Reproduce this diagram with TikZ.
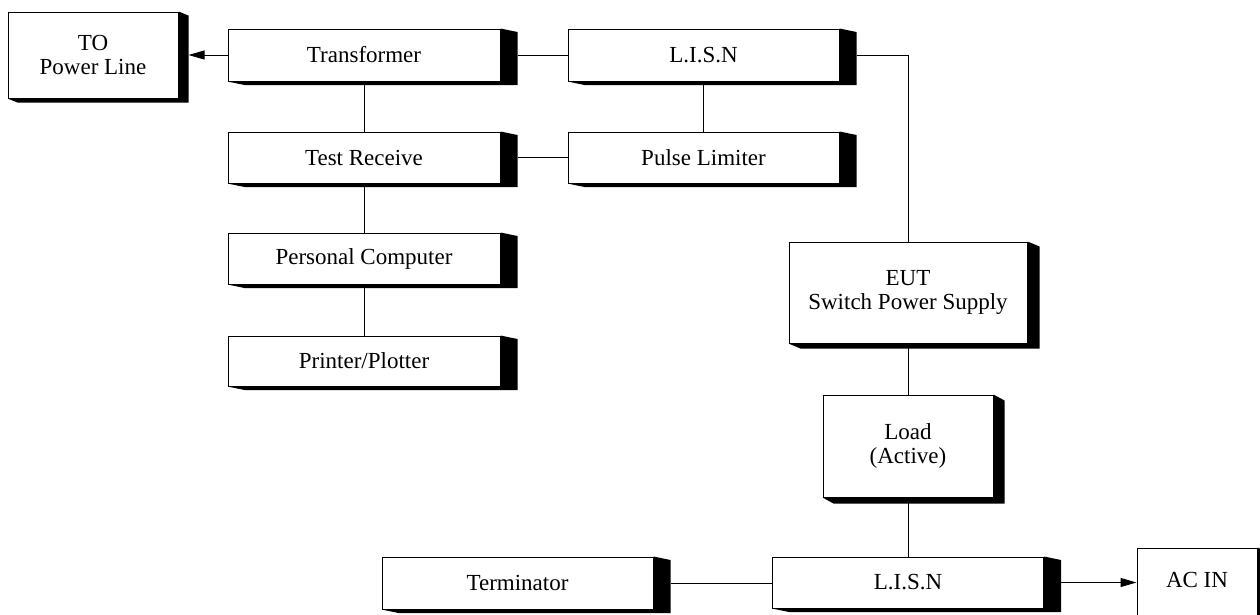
\documentclass[tikz,border=0pt]{standalone}
\usepackage{fontspec}
\setmainfont{Liberation Serif}
\usetikzlibrary{calc,arrows.meta}
\newcommand\dropshade[3]{\fill[black] (#1.north east) -- ++(#2,#3) -- ($(#1.south east)+(#2,#3)$) -- ($(#1.south west)+(#2,#3)$) -- (#1.south west) -- (#1.south east) -- cycle;}
\begin{document}
\begin{tikzpicture}[x=1pt,y=-1pt,
  box/.style={draw=black,fill=white,line width=1pt,rectangle,inner sep=0pt,align=center,
    font=\fontsize{23}{24}\selectfont},
  conn/.style={line width=1pt},
  arr/.style={line width=1pt,-{Triangle[length=16pt,width=9pt]}}]
\useasboundingbox (0,0) rectangle (1260,614);
\clip (0,0) rectangle (1260,614);
% nodes
\node[box,minimum width=170pt,minimum height=86pt] (to) at (93,55) {TO\\Power Line};
\node[box,minimum width=272pt,minimum height=52pt] (tr) at (364,55) {Transformer};
\node[box,minimum width=271pt,minimum height=52pt] (lisnA) at (703.5,55) {L.I.S.N};
\node[box,minimum width=272pt,minimum height=51pt] (test) at (364,157.5) {Test Receive};
\node[box,minimum width=271pt,minimum height=51pt] (pulse) at (703.5,157.5) {Pulse Limiter};
\node[box,minimum width=272pt,minimum height=51pt] (pc) at (364,258.5) {Personal Computer};
\node[box,minimum width=272pt,minimum height=50pt] (pp) at (364,361) {Printer/Plotter};
\node[box,minimum width=238pt,minimum height=101pt] (eut) at (908,292.5) {EUT\\Switch Power Supply};
\node[box,minimum width=170pt,minimum height=102pt] (load) at (908,446) {Load\\(Active)};
\node[box,minimum width=271pt,minimum height=52pt] (term) at (517.5,583) {Terminator};
\node[box,minimum width=271pt,minimum height=51pt] (lisnB) at (908,582.5) {L.I.S.N};
\node[box,minimum width=120pt,minimum height=84pt,text height=15pt,text depth=20pt] (acin) at (1197,590) {AC IN};
% shadows
\dropshade{to}{10}{4}
\dropshade{tr}{17}{3.5}
\dropshade{lisnA}{17}{3.5}
\dropshade{test}{17}{3.5}
\dropshade{pulse}{17}{3.5}
\dropshade{pc}{17}{3.5}
\dropshade{pp}{17}{3.5}
\dropshade{eut}{12}{5}
\dropshade{load}{11}{6}
\dropshade{term}{17}{3.5}
\dropshade{lisnB}{17}{3.5}
\dropshade{acin}{10}{4}
% connectors
\draw[arr] (tr.west) -- ([xshift=10pt]to.east);
\draw[conn] ([xshift=17pt]tr.east) -- (lisnA.west);
\draw[conn] (tr.south) -- (test.north);
\draw[conn] (lisnA.south) -- (pulse.north);
\draw[conn] ([xshift=17pt]test.east) -- (pulse.west);
\draw[conn] (test.south) -- (pc.north);
\draw[conn] (pc.south) -- (pp.north);
\draw[conn] ([xshift=17pt]lisnA.east) -| (eut.north);
\draw[conn] (eut.south) -- (load.north);
\draw[conn] (load.south) -- (lisnB.north);
\draw[conn] ([xshift=17pt]term.east) -- (lisnB.west |- term.east);
\draw[arr] ([xshift=17pt]lisnB.east) -- (acin.west |- lisnB.east);
\end{tikzpicture}
\end{document}
